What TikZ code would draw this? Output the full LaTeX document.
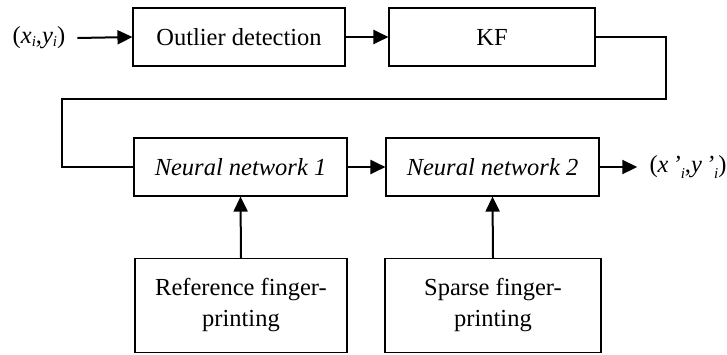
\documentclass[tikz,border=0pt]{standalone}
\usepackage{fontspec}
\setmainfont{Liberation Serif}
\usetikzlibrary{arrows.meta}
\begin{document}
\begin{tikzpicture}[x=1pt,y=-1pt,
  every node/.style={font=\fontsize{24.5}{31}\selectfont},
  blk/.style={draw, line width=1.1pt, inner sep=0pt, align=center},
  conn/.style={line width=2pt, -{Triangle[length=15pt,width=14pt]}},
  plain/.style={line width=2pt}]
\useasboundingbox (0,0) rectangle (727,354);
\node[blk, minimum width=212pt, minimum height=58pt] (od) at (239,37) {Outlier detection};
\node[blk, minimum width=206pt, minimum height=58pt] (kf) at (492,37) {KF};
\node[blk, minimum width=213pt, minimum height=58pt] (nn1) at (240.5,167) {\itshape Neural network 1};
\node[blk, minimum width=213pt, minimum height=58pt] (nn2) at (492.5,167) {\itshape Neural network 2};
\node[blk, minimum width=212pt, minimum height=94pt] (ref) at (241,305.5) {Reference finger-\\printing};
\node[blk, minimum width=216pt, minimum height=94pt] (sp) at (493,305.5) {Sparse finger-\\printing};
\node[inner sep=0pt] (in) at (39,38) {(\textit{x}\raisebox{-0.25ex}{\fontsize{15}{15}\selectfont\textit{i}},\textit{y}\raisebox{-0.25ex}{\fontsize{15}{15}\selectfont\textit{i}})};
\node[inner sep=0pt] (out) at (688,167) {(\textit{x\,’}\raisebox{-0.5ex}{\fontsize{15}{15}\selectfont\textit{i}},\textit{y\,’}\raisebox{-0.5ex}{\fontsize{15}{15}\selectfont\textit{i}})};
\coordinate (c1) at (666,99);
\coordinate (c2) at (62,99);
\draw[conn] (in.east) ++(12pt,0) coordinate (ins) (ins) -- (od.west);
\draw[conn] (od.east) -- (kf.west);
\draw[plain] (kf.east) -| (c1) -- (c2) |- (nn1.west);
\draw[conn] (nn1.east) -- (nn2.west);
\draw[conn] (nn2.east) -- ([xshift=-12pt]out.west);
\draw[conn] (ref.north) -- (nn1.south);
\draw[conn] (sp.north) -- (nn2.south);
\end{tikzpicture}
\end{document}
